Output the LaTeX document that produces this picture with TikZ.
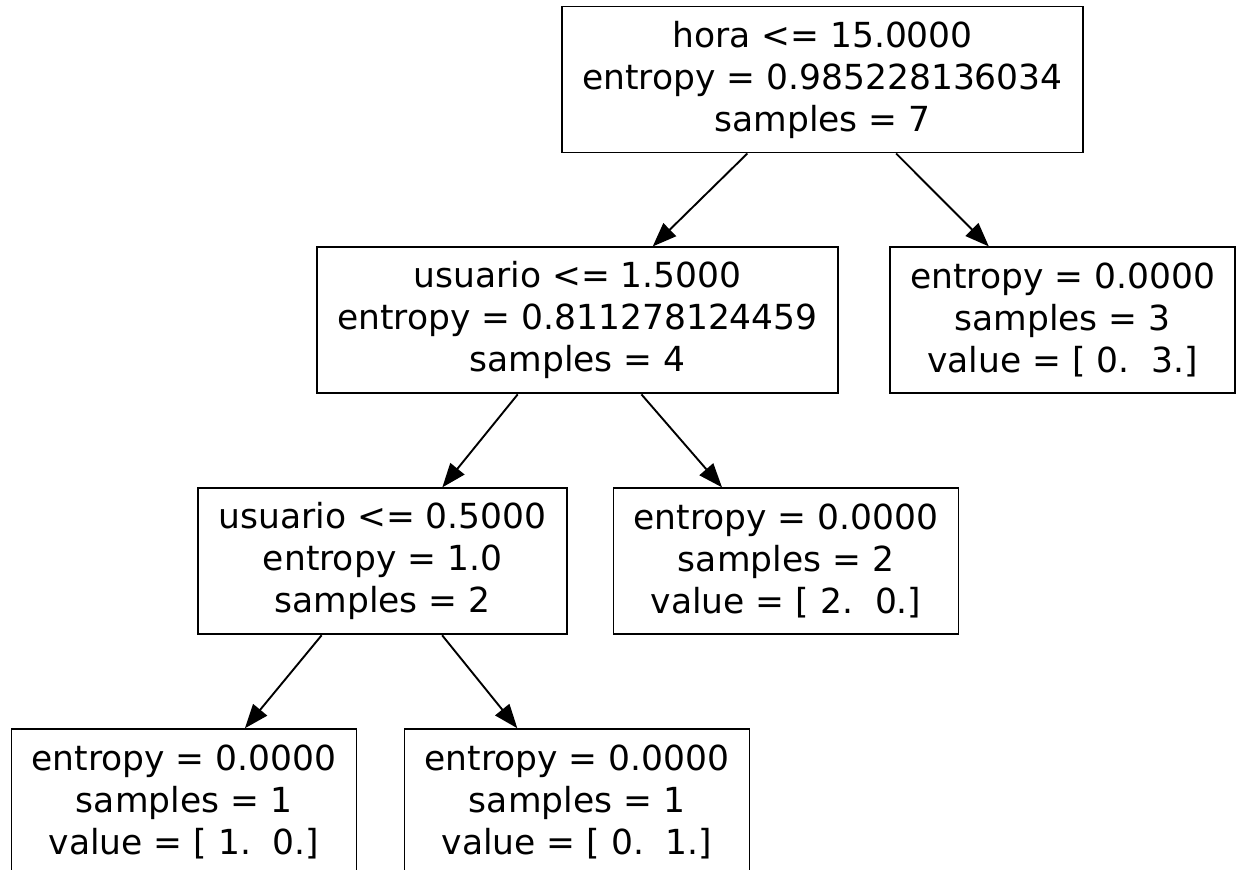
\documentclass[tikz,border=0pt]{standalone}
\usepackage{fontspec}
\setmainfont{DejaVu Sans}
\usetikzlibrary{positioning, arrows.meta}
\tikzset{%
  treenode/.style={
    rectangle,
    draw,
    line width=1.9pt,
    align=center,
    inner xsep=20pt,
    minimum height=146pt,
    font=\fontsize{34.5pt}{42pt}\selectfont
  }
}

\begin{document}
\begin{tikzpicture}[node distance=93pt, >={Triangle[length=24pt, width=18pt]}]
		\useasboundingbox (0pt,0pt) rectangle (1246pt,-869pt);
		% root
		\node[treenode] (root) at (822.5pt,-79.5pt) {hora <= 15.0000\\entropy = 0.985228136034\\samples = 7};
		% level 1
		\node[treenode, xshift=-245pt, below=of root] (u15) {usuario <= 1.5000\\entropy = 0.811278124459\\samples = 4};
		\node[treenode, xshift=240pt, below=of root] (l3) {entropy = 0.0000\\samples = 3\\value = [ 0.~~3.]};
		% level 2
		\node[treenode, xshift=-195pt, below=of u15] (u05) {usuario <= 0.5000\\entropy = 1.0\\samples = 2};
		\node[treenode, xshift=208.5pt, below=of u15] (l20) {entropy = 0.0000\\samples = 2\\value = [ 2.~~0.]};
		% level 3
		\node[treenode, xshift=-198.5pt, below=of u05] (l10) {entropy = 0.0000\\samples = 1\\value = [ 1.~~0.]};
		\node[treenode, xshift=194.5pt, below=of u05] (l01) {entropy = 0.0000\\samples = 1\\value = [ 0.~~1.]};
		% connections
		\path [->, line width=1.9pt] (root) edge (u15);
		\path [->, line width=1.9pt] (root) edge (l3);
		\path [->, line width=1.9pt] (u15) edge (u05);
		\path [->, line width=1.9pt] (u15) edge (l20);
		\path [->, line width=1.9pt] (u05) edge (l10);
		\path [->, line width=1.9pt] (u05) edge (l01);
\end{tikzpicture}
\end{document}
